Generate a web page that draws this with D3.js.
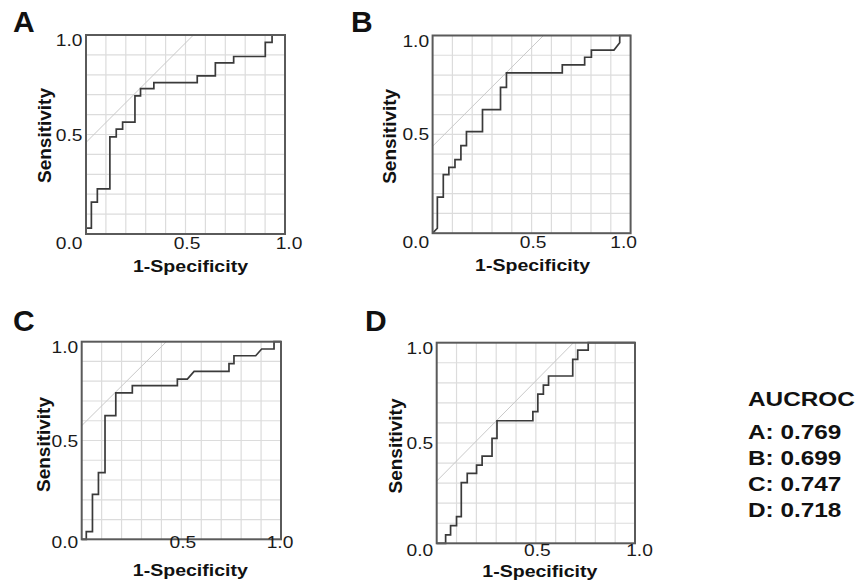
<!DOCTYPE html>
<html>
<head>
<meta charset="utf-8">
<script src="https://cdn.jsdelivr.net/npm/d3@7"></script>
<style>
  html, body { margin: 0; padding: 0; background: #fff; }
  svg { display: block; }
  text { font-family: Arial, "Liberation Sans", Helvetica, sans-serif; }
</style>
</head>
<body>
<svg id="chart" width="855" height="586"></svg>
<script>
// ---------------- DATA ----------------
const panelIds = ["A", "B", "C", "D"];
const aucValues = ["0.769", "0.699", "0.747", "0.718"];
const tickValues = [0, 0.5, 1];
const gridValues = [0.1, 0.2, 0.3, 0.4, 0.5, 0.6, 0.7, 0.8, 0.9];
const refIntercepts = [0.46, 0.44, 0.575, 0.31];

// ROC curve vertices (1-Specificity, Sensitivity)
const fprA = [0,0,0.027,0.027,0.057,0.057,0.12,0.12,0.152,0.152,0.184,0.184,0.246,0.246,0.274,0.274,0.341,0.341,0.559,0.559,0.65,0.65,0.742,0.742,0.901,0.901,0.935,0.935,1];
const tprA = [0,0.03,0.03,0.16,0.16,0.227,0.227,0.488,0.488,0.527,0.527,0.562,0.562,0.694,0.694,0.731,0.731,0.761,0.761,0.795,0.795,0.86,0.86,0.892,0.892,0.963,0.963,1,1];

const fprB = [0,0.024,0.024,0.054,0.054,0.082,0.082,0.113,0.113,0.143,0.143,0.171,0.171,0.252,0.252,0.343,0.343,0.373,0.373,0.655,0.655,0.768,0.768,0.802,0.802,0.916,0.945,0.945,1];
const tprB = [0,0.025,0.182,0.182,0.296,0.296,0.333,0.333,0.372,0.372,0.443,0.443,0.514,0.514,0.625,0.625,0.738,0.738,0.811,0.811,0.851,0.851,0.89,0.89,0.926,0.926,0.963,1,1];

const fprC = [0,0.023,0.023,0.054,0.054,0.084,0.084,0.117,0.117,0.171,0.171,0.254,0.254,0.48,0.48,0.53,0.564,0.739,0.739,0.764,0.764,0.873,0.903,0.965,0.965,1];
const tprC = [0,0,0.039,0.039,0.227,0.227,0.337,0.337,0.626,0.626,0.741,0.741,0.778,0.778,0.811,0.811,0.85,0.85,0.889,0.889,0.929,0.929,0.963,0.963,1,1];

const fprD = [0,0.045,0.045,0.07,0.07,0.1,0.1,0.124,0.124,0.154,0.154,0.201,0.201,0.229,0.229,0.279,0.279,0.304,0.304,0.485,0.485,0.51,0.51,0.538,0.538,0.564,0.564,0.686,0.686,0.711,0.711,0.764,0.764,1];
const tprD = [0,0,0.042,0.042,0.088,0.088,0.133,0.133,0.302,0.302,0.349,0.349,0.39,0.39,0.435,0.435,0.523,0.523,0.611,0.611,0.656,0.656,0.744,0.744,0.789,0.789,0.834,0.834,0.917,0.917,0.963,0.963,1,1];

const fprSeries = [fprA, fprB, fprC, fprD];
const tprSeries = [tprA, tprB, tprC, tprD];

// ---------------- LAYOUT ----------------
const layout = [
  {left: 86,    top: 35,    w: 199,   h: 199,   zeroDy: 15, x1Dx: 4,   xtDx: 5, xtDy: 38, ytDx: -35,   ytDy: 1, letterX: 13,  letterY: 32},
  {left: 432.6, top: 35.5,  w: 198,   h: 197.7, zeroDy: 15, x1Dx: -7,  xtDx: 1, xtDy: 38, ytDx: -36.5, ytDy: 2, letterX: 351, letterY: 32},
  {left: 81.7,  top: 341.7, w: 199.3, h: 197.6, zeroDy: 9,  x1Dx: -1,  xtDx: 9, xtDy: 37, ytDx: -32,   ytDy: 4, letterX: 13,  letterY: 331},
  {left: 436.7, top: 342.7, w: 198.3, h: 200.6, zeroDy: 13, x1Dx: 4.5, xtDx: 4, xtDy: 34, ytDx: -35,   ytDy: 3, letterX: 365, letterY: 331}
];

const svg = d3.select("#chart");
svg.append("rect").attr("width", 855).attr("height", 586).attr("fill", "#fff");

function stext(g, x, y, s, o) {
  const tr = `translate(${x},${y})` + (o.rotate ? ` rotate(${o.rotate})` : "") + ` scale(${o.sx || 1},1)`;
  return g.append("text")
    .attr("transform", tr)
    .attr("text-anchor", o.anchor || "start")
    .attr("font-size", o.size)
    .attr("font-weight", o.weight || "normal")
    .attr("fill", o.fill || "#1a1a1a")
    .text(s);
}

panelIds.forEach((id, i) => {
  const L = layout[i];
  const g = svg.append("g");
  const x = d3.scaleLinear().domain([0, 1]).range([L.left, L.left + L.w]);
  const y = d3.scaleLinear().domain([0, 1]).range([L.top + L.h, L.top]);

  // gridlines
  g.append("g").selectAll("line.v").data(gridValues).join("line")
    .attr("x1", d => x(d)).attr("x2", d => x(d))
    .attr("y1", y(0)).attr("y2", y(1))
    .attr("stroke", "#dcdcdc").attr("stroke-width", 1.2);
  g.append("g").selectAll("line.h").data(gridValues).join("line")
    .attr("y1", d => y(d)).attr("y2", d => y(d))
    .attr("x1", x(0)).attr("x2", x(1))
    .attr("stroke", "#dcdcdc").attr("stroke-width", 1.2);

  // reference line y = x + c
  const c = refIntercepts[i];
  g.append("line")
    .attr("x1", x(0)).attr("y1", y(c))
    .attr("x2", x(1 - c)).attr("y2", y(1))
    .attr("stroke", "#c9c9c9").attr("stroke-width", 1);

  // ROC curve
  const pts = fprSeries[i].map((f, k) => [f, tprSeries[i][k]]);
  const line = d3.line().x(d => x(d[0])).y(d => y(d[1]));
  g.append("path").datum(pts)
    .attr("d", line)
    .attr("fill", "none")
    .attr("stroke", "#3a3a3a")
    .attr("stroke-width", 1.7)
    .attr("stroke-linejoin", "miter");

  // frame
  g.append("rect")
    .attr("x", x(0)).attr("y", y(1))
    .attr("width", x(1) - x(0)).attr("height", y(0) - y(1))
    .attr("fill", "none").attr("stroke", "#5a5a5a").attr("stroke-width", 2);

  // y tick labels
  tickValues.forEach(v => {
    const ly = v === 1 ? L.top + 11 : (v === 0 ? L.top + L.h + L.zeroDy : y(v) + 6);
    stext(g, L.left - 3.5, ly, d3.format(".1f")(v), {size: 16, anchor: "end", sx: 1.2});
  });
  // x tick labels (0.0 shared with y axis)
  tickValues.filter(v => v > 0).forEach(v => {
    const lx = v === 1 ? x(1) + L.x1Dx : x(v) + 1.5;
    stext(g, lx, L.top + L.h + L.zeroDy, d3.format(".1f")(v), {size: 16, anchor: "middle", sx: 1.2});
  });

  // axis titles
  stext(g, x(0.5) + L.xtDx, L.top + L.h + L.xtDy, "1-Specificity",
        {size: 17, weight: "bold", anchor: "middle", sx: 1.15, fill: "#111"});
  stext(g, L.left + L.ytDx, y(0.5) + L.ytDy, "Sensitivity",
        {size: 18, weight: "bold", anchor: "middle", rotate: -90, sx: 1.055, fill: "#111"});

  // panel letter
  stext(g, L.letterX, L.letterY, id, {size: 30, weight: "bold", fill: "#111"});
});

// AUC legend
const lg = svg.append("g");
stext(lg, 748, 406, "AUCROC", {size: 21, weight: "bold", sx: 1.16, fill: "#111"});
panelIds.forEach((id, i) => {
  stext(lg, 748, 439 + i * 26, `${id}: ${aucValues[i]}`, {size: 21, weight: "bold", sx: 1.16, fill: "#111"});
});
</script>
</body>
</html>
